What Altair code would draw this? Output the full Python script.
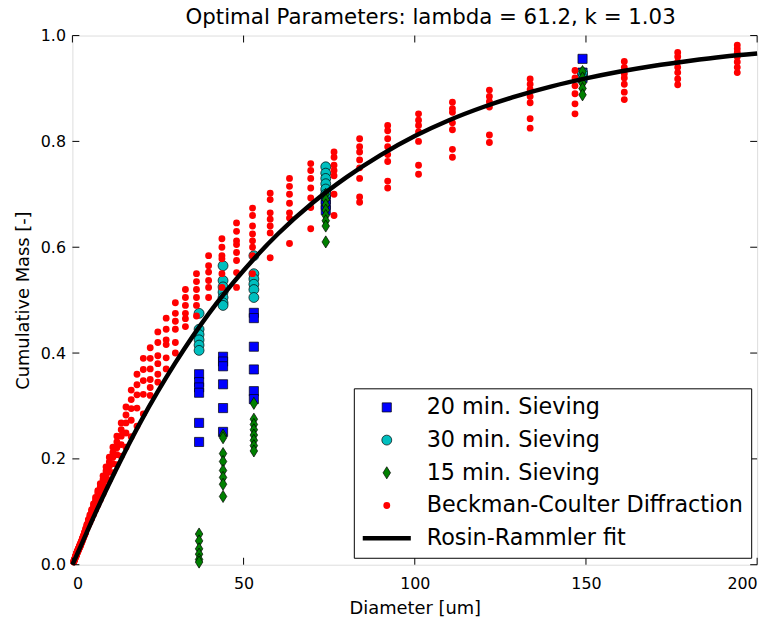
import altair as alt
import pandas as pd

# ---------------- data ----------------
series_names = ["20 min. Sieving", "30 min. Sieving", "15 min. Sieving",
                "Beckman-Coulter Diffraction", "Rosin-Rammler fit"]

# sieve openings (um)
sieve_sizes = [37, 44, 53, 74, 149]
sieve_20 = [[0.36, 0.345, 0.335, 0.325, 0.268, 0.232],
            [0.393, 0.384, 0.375, 0.341, 0.296, 0.251],
            [0.476, 0.466, 0.412, 0.369, 0.328, 0.313],
            [0.70, 0.69, 0.68, 0.67],
            [0.956, 0.93, 0.92]]
sieve_30 = [[0.475, 0.445, 0.435, 0.425, 0.415, 0.405],
            [0.565, 0.537, 0.525, 0.515, 0.505, 0.495, 0.49],
            [0.584, 0.55, 0.54, 0.53, 0.52, 0.505],
            [0.752, 0.74, 0.73, 0.72, 0.71, 0.70],
            [0.93, 0.92]]
sieve_15 = [[0.058, 0.045, 0.03, 0.02, 0.01, 0.005],
            [0.245, 0.24, 0.21, 0.195, 0.178, 0.165, 0.152, 0.129],
            [0.305, 0.275, 0.265, 0.255, 0.245, 0.235, 0.225, 0.215],
            [0.70, 0.69, 0.68, 0.67, 0.66, 0.65, 0.64, 0.61],
            [0.932, 0.92, 0.91, 0.90, 0.888]]

# Beckman-Coulter bins (um) and cumulative fractions of the samples
bc_bins = [0.375, 0.452, 0.545, 0.657, 0.791, 0.953, 1.047, 1.149, 1.261, 1.385,
           1.52, 1.669, 1.832, 2.011, 2.208, 2.423, 2.66, 2.92, 3.206, 3.519,
           3.863, 4.241, 4.656, 5.111, 5.611, 6.159, 6.761, 7.422, 8.148, 8.944,
           9.819, 10.78, 11.83, 12.99, 14.26, 15.65, 17.18, 18.86, 20.71, 22.73,
           24.95, 27.39, 30.07, 33.01, 36.24, 39.78, 43.67, 47.94, 52.62, 57.77,
           63.41, 69.61, 76.42, 83.89, 92.09, 101.1, 111.0, 121.8, 133.7, 146.8,
           161.2, 176.8, 194.2]
bc_values = [
    [0.006, 0.005], [0.007, 0.006], [0.009, 0.008], [0.011, 0.010], [0.013, 0.012],
    [0.016, 0.014],
    [.018, .018, .017, .017, .016], [.020, .020, .019, .019, .018],
    [.022, .022, .021, .021, .020], [.024, .024, .023, .023, .022],
    [.026, .026, .025, .025, .024], [.029, .028, .028, .027, .026],
    [.031, .031, .030, .030, .029], [.034, .033, .033, .032, .031],
    [.038, .037, .036, .035, .034], [.041, .040, .039, .038, .037],
    [.045, .044, .043, .042, .041], [.050, .049, .048, .047, .045],
    [.055, .054, .053, .051, .050], [.061, .060, .058, .056, .055],
    [.068, .066, .064, .062, .060], [.076, .074, .073, .071, .068],
    [.085, .083, .081, .078, .074], [.094, .091, .088, .085, .080],
    [.104, .101, .097, .093, .087], [.115, .111, .107, .102, .095],
    [.127, .122, .118, .112, .104], [.140, .135, .129, .122, .113],
    [.153, .147, .141, .134, .123], [.168, .161, .154, .146, .134],
    [.185, .177, .170, .160, .147], [.203, .194, .186, .175, .160],
    [.222, .212, .203, .191, .174], [.243, .232, .221, .208, .189],
    [.268, .255, .243, .227, .205], [.298, .283, .268, .249, .222],
    [.330, .312, .295, .273, .242], [.360, .340, .321, .296, .262],
    [.390, .369, .348, .322, .285],
    [0.41, 0.39, 0.37, 0.35, 0.335, 0.32],
    [0.44, 0.42, 0.395, 0.38, 0.36, 0.345],
    [0.466, 0.445, 0.425, 0.416, 0.391, 0.37],
    [0.495, 0.475, 0.46, 0.445, 0.42, 0.40],
    [0.52, 0.505, 0.49, 0.475, 0.465, 0.45],
    [0.55, 0.535, 0.52, 0.505, 0.49, 0.47],
    [0.584, 0.565, 0.553, 0.537, 0.524, 0.505],
    [0.616, 0.60, 0.584, 0.578, 0.55, 0.524],
    [0.646, 0.63, 0.612, 0.605, 0.59, 0.575, 0.552, 0.524],
    [0.674, 0.66, 0.64, 0.625, 0.612, 0.60, 0.584, 0.55],
    [0.702, 0.69, 0.665, 0.653, 0.64, 0.627, 0.58],
    [0.73, 0.715, 0.70, 0.683, 0.665, 0.655, 0.607],
    [0.758, 0.745, 0.73, 0.712, 0.693, 0.675, 0.635],
    [0.78, 0.77, 0.755, 0.745, 0.735, 0.70, 0.66],
    [0.805, 0.79, 0.78, 0.765, 0.75, 0.73, 0.695, 0.685],
    [0.83, 0.82, 0.805, 0.79, 0.775, 0.762, 0.725, 0.712],
    [0.852, 0.84, 0.83, 0.818, 0.80, 0.755, 0.738],
    [0.874, 0.862, 0.855, 0.835, 0.822, 0.785, 0.77],
    [0.897, 0.885, 0.875, 0.865, 0.812, 0.798],
    [0.918, 0.908, 0.898, 0.885, 0.873, 0.843, 0.825],
    [0.934, 0.92, 0.905, 0.89, 0.871, 0.852],
    [0.951, 0.94, 0.928, 0.92, 0.908, 0.893, 0.879],
    [0.968, 0.96, 0.95, 0.94, 0.93, 0.918, 0.907],
    [0.982, 0.975, 0.968, 0.96, 0.95, 0.94, 0.93],
]

# Rosin-Rammler fit curve (lambda = 61.2, k = 1.03)
fit_d = [0, 2.5, 5, 10, 15, 20, 25, 30, 40, 50, 60, 70, 80, 90, 100, 110, 120,
         130, 140, 150, 160, 170, 180, 190, 200]
fit_y = [0.0, 0.036, 0.073, 0.143, 0.209, 0.271, 0.328, 0.381, 0.476, 0.556,
         0.625, 0.683, 0.732, 0.774, 0.810, 0.840, 0.865, 0.886, 0.904, 0.919,
         0.932, 0.943, 0.952, 0.960, 0.966]

x_ticks = [0, 50, 100, 150, 200]
y_ticks = [0.0, 0.2, 0.4, 0.6, 0.8, 1.0]

# styles
fill_colors = ["#0000FF", "#00BFBF", "#008000", "#FF0000", "#000000"]
stroke_colors = ["#000000", "#000000", "#000000", "#FF0000", "#000000"]
shapes = ["square", "circle", "M-0.62,0L0,-1L0.62,0L0,1Z", "circle", "M-2.8,0L2.8,0"]
sizes = [85, 100, 150, 48, 300]
stroke_widths = [0.7, 0.7, 0.7, 0, 4.5]

# ---------------- tables ----------------
rows = []
for name, groups in zip(series_names[:3], [sieve_20, sieve_30, sieve_15]):
    for d, ys in zip(sieve_sizes, groups):
        for v in ys:
            rows.append({"d": d, "frac": v, "series": name})
for d, ys in zip(bc_bins, bc_values):
    for v in ys:
        rows.append({"d": d, "frac": v, "series": series_names[3]})
pts = pd.DataFrame(rows)
fit = pd.DataFrame({"d": fit_d, "frac": fit_y, "series": series_names[4]})
xt = pd.DataFrame({"t": x_ticks})
yt = pd.DataFrame({"t": y_ticks})

W, H = 691, 534
FONT = "DejaVu Sans"

xscale = alt.Scale(domain=[0, 200], nice=False, zero=False)
yscale = alt.Scale(domain=[0, 1], nice=False, zero=False)

xaxis = alt.Axis(values=x_ticks, format="d", tickSize=0, domain=False, grid=False,
                 labelFontSize=16, labelFont=FONT, labelColor="black", labelPadding=11,
                 title="Diameter [um]", titleFontSize=18, titleFont=FONT,
                 titleFontWeight="normal", titleColor="black", titlePadding=8)
yaxis = alt.Axis(values=y_ticks, format=".1f", tickSize=0, domain=False, grid=False,
                 labelFontSize=16, labelFont=FONT, labelColor="black", labelPadding=7,
                 title="Cumulative Mass [-]", titleFontSize=18, titleFont=FONT,
                 titleFontWeight="normal", titleColor="black", titlePadding=8)

leg = alt.Legend(title=None, orient="none", legendX=284, legendY=356,
                 fillColor="white", strokeColor="black", padding=8, cornerRadius=0,
                 labelFontSize=22.5, labelFont=FONT, labelColor="black", labelLimit=500,
                 rowPadding=10, labelOffset=29, symbolOffset=14)

def dscale(rng, ordinal=False):
    if ordinal:
        return alt.Scale(type="ordinal", domain=series_names, range=rng)
    return alt.Scale(domain=series_names, range=rng)

points = alt.Chart(pts).mark_point(filled=True, opacity=1).encode(
    x=alt.X("d:Q", scale=xscale, axis=xaxis),
    y=alt.Y("frac:Q", scale=yscale, axis=yaxis),
    fill=alt.Fill("series:N", scale=dscale(fill_colors), legend=leg),
    stroke=alt.Stroke("series:N", scale=dscale(stroke_colors), legend=leg),
    shape=alt.Shape("series:N", scale=dscale(shapes), legend=leg),
    size=alt.Size("series:N", scale=dscale(sizes, True), legend=leg),
    strokeWidth=alt.StrokeWidth("series:N", scale=dscale(stroke_widths, True), legend=leg),
)

line = alt.Chart(fit).mark_line(interpolate="monotone").encode(
    x=alt.X("d:Q", scale=xscale, axis=xaxis),
    y=alt.Y("frac:Q", scale=yscale, axis=yaxis),
    stroke=alt.Stroke("series:N", scale=dscale(stroke_colors), legend=leg),
    strokeWidth=alt.StrokeWidth("series:N", scale=dscale(stroke_widths, True), legend=leg),
)

TL = 7
xt_bot = alt.Chart(xt).mark_rule(color="black", strokeWidth=1).encode(
    x=alt.X("t:Q", scale=xscale, axis=xaxis), y=alt.value(H), y2=alt.value(H - TL))
xt_top = alt.Chart(xt).mark_rule(color="black", strokeWidth=1).encode(
    x=alt.X("t:Q", scale=xscale, axis=xaxis), y=alt.value(0), y2=alt.value(TL))
yt_left = alt.Chart(yt).mark_rule(color="black", strokeWidth=1).encode(
    y=alt.Y("t:Q", scale=yscale, axis=yaxis), x=alt.value(0), x2=alt.value(TL))
yt_right = alt.Chart(yt).mark_rule(color="black", strokeWidth=1).encode(
    y=alt.Y("t:Q", scale=yscale, axis=yaxis), x=alt.value(W), x2=alt.value(W - TL))

chart = alt.layer(points, line, xt_bot, xt_top, yt_left, yt_right).properties(
    width=W, height=H,
    title=alt.TitleParams("Optimal Parameters: lambda = 61.2, k = 1.03", fontSize=21.5,
                          font=FONT, fontWeight="normal", color="black",
                          offset=-1, dx=16),
    autosize=alt.AutoSizeParams(type="none"),
    padding={"left": 65, "top": 25, "right": 15, "bottom": 55},
).configure_view(stroke="black", strokeWidth=1.2).configure(background="white")

chart.save("out.html", embed_options={"renderer": "svg", "actions": False})
